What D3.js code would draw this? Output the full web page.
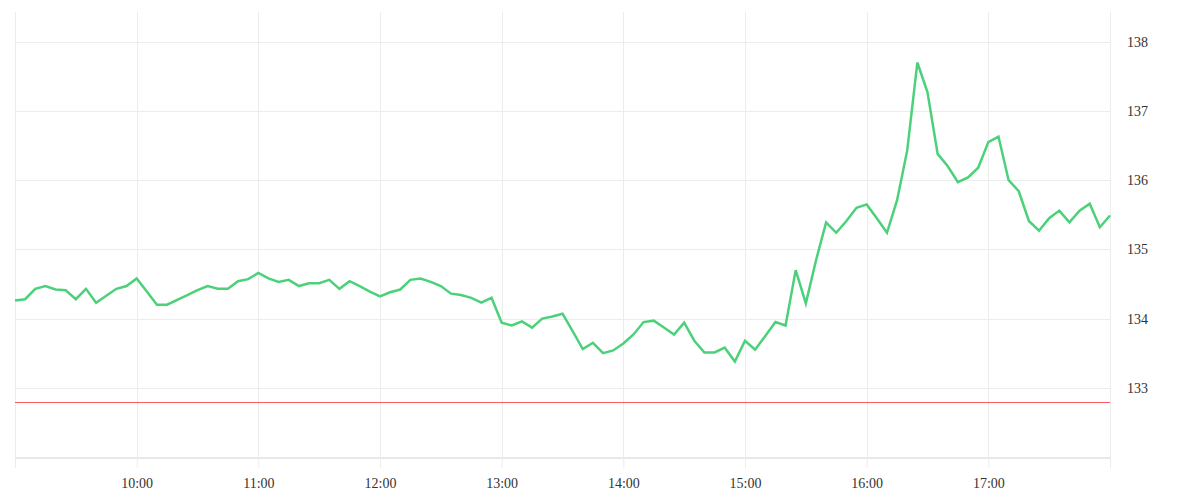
<!DOCTYPE html>
<html>
<head>
<meta charset="utf-8">
<script src="https://cdn.jsdelivr.net/npm/d3@7"></script>
<style>
  html, body { margin: 0; padding: 0; background: #ffffff; }
  svg { display: block; }
</style>
</head>
<body>
<svg id="chart" width="1200" height="500"></svg>
<script>
const times = [
  "09:00","09:05","09:10","09:15","09:20","09:25","09:30","09:35","09:40","09:45","09:50","09:55",
  "10:00","10:05","10:10","10:15","10:20","10:25","10:30","10:35","10:40","10:45","10:50","10:55",
  "11:00","11:05","11:10","11:15","11:20","11:25","11:30","11:35","11:40","11:45","11:50","11:55",
  "12:00","12:05","12:10","12:15","12:20","12:25","12:30","12:35","12:40","12:45","12:50","12:55",
  "13:00","13:05","13:10","13:15","13:20","13:25","13:30","13:35","13:40","13:45","13:50","13:55",
  "14:00","14:05","14:10","14:15","14:20","14:25","14:30","14:35","14:40","14:45","14:50","14:55",
  "15:00","15:05","15:10","15:15","15:20","15:25","15:30","15:35","15:40","15:45","15:50","15:55",
  "16:00","16:05","16:10","16:15","16:20","16:25","16:30","16:35","16:40","16:45","16:50","16:55",
  "17:00","17:05","17:10","17:15","17:20","17:25","17:30","17:35","17:40","17:45","17:50","17:55",
  "18:00"
];
const prices = [
  134.26,134.28,134.43,134.47,134.42,134.41,134.28,134.43,134.23,134.33,134.43,134.47,
  134.58,134.39,134.20,134.20,134.27,134.34,134.41,134.47,134.43,134.43,134.54,134.57,
  134.66,134.58,134.53,134.56,134.47,134.51,134.51,134.56,134.43,134.54,134.47,134.39,
  134.32,134.38,134.42,134.56,134.58,134.53,134.47,134.36,134.34,134.30,134.23,134.30,
  133.94,133.90,133.96,133.87,134.00,134.03,134.07,133.82,133.56,133.65,133.50,133.54,
  133.64,133.77,133.95,133.97,133.87,133.77,133.94,133.68,133.51,133.51,133.58,133.38,
  133.68,133.55,133.75,133.95,133.90,134.70,134.22,134.84,135.39,135.24,135.41,135.60,
  135.65,135.45,135.24,135.71,136.43,137.70,137.27,136.38,136.20,135.97,136.04,136.18,
  136.55,136.63,136.00,135.84,135.41,135.27,135.45,135.56,135.39,135.56,135.66,135.32,
  135.49
];
const referenceLevel = 132.80;
const xTickLabels = ["10:00","11:00","12:00","13:00","14:00","15:00","16:00","17:00"];
const yTickValues = [133, 134, 135, 136, 137, 138];
const xDomainLabels = ["09:00", "18:00"];
const yDomain = [132, 138.43];

const parse = d3.timeParse("%Y-%m-%d %H:%M");
const day = "2024-01-02 ";
const data = times.map((t, i) => ({ t: parse(day + t), v: prices[i] }));

const svg = d3.select("#chart");
const mLeft = 15, mRight = 1110, mTop = 12, mBottom = 457;

const x = d3.scaleTime()
  .domain(xDomainLabels.map(s => parse(day + s)))
  .range([mLeft, mRight]);
const y = d3.scaleLinear().domain(yDomain).range([mBottom, mTop]);

const grid = "#ececec";
const labelFont = "'Liberation Serif', 'Times New Roman', serif";
const xTicks = xTickLabels.map(s => parse(day + s));

// vertical gridlines (hours)
svg.append("g").selectAll("line").data(xTicks).join("line")
  .attr("x1", d => Math.round(x(d)) + 0.5).attr("x2", d => Math.round(x(d)) + 0.5)
  .attr("y1", mTop).attr("y2", mBottom)
  .attr("stroke", grid).attr("stroke-width", 1);

// horizontal gridlines
svg.append("g").selectAll("line").data(yTickValues).join("line")
  .attr("x1", mLeft).attr("x2", mRight)
  .attr("y1", d => Math.round(y(d)) + 0.5).attr("y2", d => Math.round(y(d)) + 0.5)
  .attr("stroke", grid).attr("stroke-width", 1);

// left border
svg.append("line")
  .attr("x1", mLeft + 0.5).attr("x2", mLeft + 0.5)
  .attr("y1", mTop).attr("y2", mBottom + 11)
  .attr("stroke", grid);

// bottom axis
const xAxis = d3.axisBottom(x)
  .tickValues(xTicks)
  .tickFormat(d3.timeFormat("%H:%M"))
  .tickSize(11).tickPadding(10);
const gx = svg.append("g").attr("transform", `translate(0,${mBottom})`).call(xAxis);
gx.select(".domain").attr("stroke", "#e8e8e8").attr("stroke-width", 2).attr("d", `M${mLeft},1H${mRight}`);
gx.selectAll(".tick line").attr("stroke", grid);
gx.selectAll(".tick text").attr("font-family", labelFont).attr("font-size", 14).attr("fill", "#333");

// right axis
const yAxis = d3.axisRight(y)
  .tickValues(yTickValues)
  .tickFormat(d3.format("d"))
  .tickSize(0).tickPadding(17);
const gy = svg.append("g").attr("transform", `translate(${mRight},0)`).call(yAxis);
gy.select(".domain").attr("stroke", grid).attr("stroke-width", 1)
  .attr("d", `M0.5,${mTop}V${mBottom + 11}`);
gy.selectAll(".tick text").attr("font-family", labelFont).attr("font-size", 14).attr("fill", "#333");

// reference line
svg.append("line")
  .attr("x1", mLeft).attr("x2", mRight)
  .attr("y1", Math.round(y(referenceLevel)) + 0.5).attr("y2", Math.round(y(referenceLevel)) + 0.5)
  .attr("stroke", "#ff5a5f").attr("stroke-width", 1);

// price line
const line = d3.line().x(d => x(d.t)).y(d => y(d.v));
svg.append("path").datum(data)
  .attr("d", line)
  .attr("fill", "none")
  .attr("stroke", "#4cd17b")
  .attr("stroke-width", 2.5)
  .attr("stroke-linejoin", "miter");
</script>
</body>
</html>
